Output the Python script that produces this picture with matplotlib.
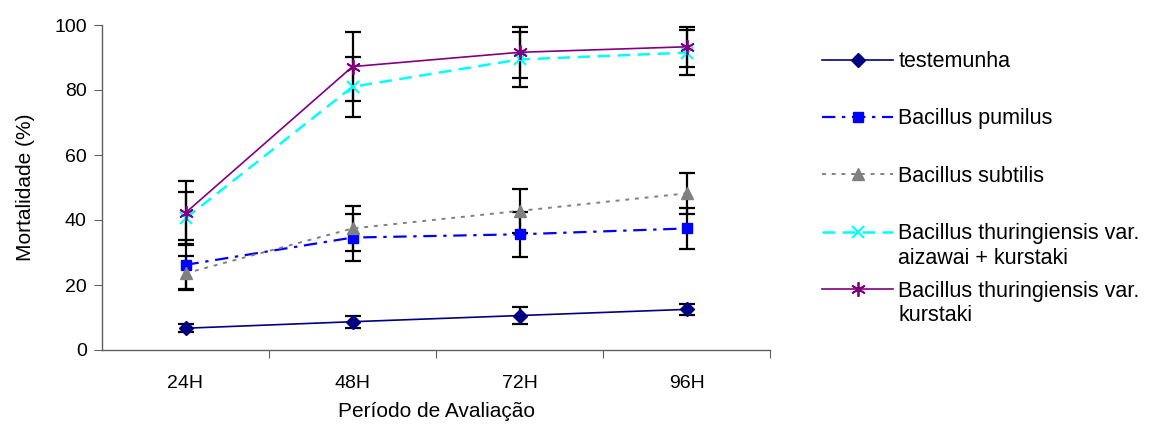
import numpy as np
import matplotlib
matplotlib.use("Agg")
import matplotlib.pyplot as plt

plt.rcParams['font.family'] = ['Liberation Sans', 'DejaVu Sans']

# %% Data
periods = ['24H', '48H', '72H', '96H']

testemunha = [6.7, 8.7, 10.6, 12.5]
testemunha_err = [1.3, 1.9, 2.6, 1.8]

pumilus = [26.2, 34.6, 35.6, 37.4]
pumilus_err = [7.5, 7.2, 6.9, 6.2]

subtilis = [23.6, 37.4, 42.8, 48.2]
subtilis_err = [5.2, 7.0, 6.7, 6.2]

bt_aizawai = [40.5, 81.0, 89.4, 91.5]
bt_aizawai_err = [8.0, 9.3, 8.4, 7.0]

bt_kurstaki = [42.2, 87.2, 91.6, 93.3]
bt_kurstaki_err = [9.8, 10.5, 7.9, 6.2]

labels = [
    "testemunha\n",
    "Bacillus pumilus\n",
    "Bacillus subtilis\n",
    "Bacillus thuringiensis var.\naizawai + kurstaki",
    "Bacillus thuringiensis var.\nkurstaki",
]

# %% Plot
fig = plt.figure(figsize=(11.58, 4.24), dpi=100)
ax = fig.add_axes([102/1158, 1-350/424, 668/1158, 325/424])

x = np.arange(len(periods))

series = [
    (testemunha, testemunha_err, dict(color='#000080', ls='-', lw=1.2, marker='D', ms=7)),
    (pumilus, pumilus_err, dict(color='#0000FF', ls=(0, (6, 3, 1.5, 3)), lw=1.6, marker='s', ms=7.5)),
    (subtilis, subtilis_err, dict(color='#808080', ls=(0, (2, 3)), lw=1.4, marker='^', ms=8.5)),
    (bt_aizawai, bt_aizawai_err, dict(color='#00FFFF', ls=(0, (5, 3)), lw=1.8, marker='x', ms=8.5, mew=1.5)),
    (bt_kurstaki, bt_kurstaki_err, dict(color='#800080', ls='-', lw=1.2, marker=(6, 2, 0), ms=10.5, mew=1.3)),
]

handles = []
for i, (y, err, style) in enumerate(series):
    ax.errorbar(x, y, yerr=err, fmt='none', ecolor='black', elinewidth=1.6,
                capsize=5.5, capthick=1.6, zorder=1)
    h, = ax.plot(x, y, zorder=3 + i, **style)
    handles.append(h)

ax.set_xlim(-0.5, 3.5)
ax.set_ylim(0, 100)
ax.set_yticks(np.arange(0, 101, 20))

ax.set_xticks([0.5, 1.5, 2.5, 3.5])
ax.set_xticklabels([])
ax.set_xticks(x, minor=True)
ax.set_xticklabels(periods, minor=True)
ax.tick_params(axis='x', which='minor', length=0, pad=18, labelsize=14)
ax.tick_params(axis='x', which='major', length=6, direction='out', color='#606060')
ax.tick_params(axis='y', length=6, direction='out', color='#606060', labelsize=14, pad=5)

for side in ['top', 'right']:
    ax.spines[side].set_visible(False)
for side in ['left', 'bottom']:
    ax.spines[side].set_color('#606060')
    ax.spines[side].set_linewidth(1.0)

ax.set_xlabel("Período de Avaliação", fontsize=15, labelpad=7)
ax.set_ylabel("Mortalidade (%)", fontsize=15, labelpad=14)

leg = fig.legend(handles, labels, loc='upper left', bbox_to_anchor=(822/1158, 1-51/424),
                 frameon=False, fontsize=15.5, handlelength=3.3, handleheight=1.0,
                 handletextpad=0.25, labelspacing=0.57, borderpad=0, borderaxespad=0)
# keep the handle level with the first line of two-line labels
for col in leg._legend_handle_box.get_children():
    for item in col.get_children():
        item.align = "top"

plt.savefig('out.png', dpi=100)
